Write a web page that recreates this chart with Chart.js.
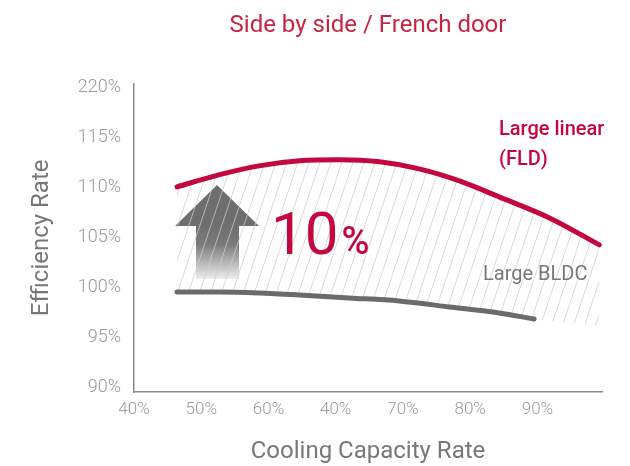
<!DOCTYPE html>
<html>
<head>
<meta charset="utf-8">
<script src="https://cdn.jsdelivr.net/npm/chart.js@4/dist/chart.umd.min.js"></script>
<style>
  html, body { margin: 0; padding: 0; background: #fff; }
  #wrap { width: 630px; height: 466px; }
</style>
</head>
<body>
<div id="wrap"><canvas id="myChart" width="630" height="466"></canvas></div>
<script>
// x positions are tick slots (0 = first "40%" label), y in percent
var xTickLabels = ['40%', '50%', '60%', '40%', '70%', '80%', '90%'];
var yTickValues = [90, 95, 100, 105, 110, 115, 120];
var yTickLabels = ['90%', '95%', '100%', '105%', '110%', '115%', '220%'];

var linearX = [0.64, 1.26, 1.86, 2.46, 3.05, 3.65, 4.24, 4.84, 5.43, 6.18, 6.92];
var linearY = [110.1, 111.3, 112.2, 112.7, 112.8, 112.6, 111.9, 110.7, 109.1, 107.0, 104.3];

var bldcX = [0.64, 1.26, 1.86, 2.46, 3.2, 3.94, 4.69, 5.43, 5.95];
var bldcY = [99.6, 99.6, 99.5, 99.3, 99.0, 98.7, 98.1, 97.5, 96.9];

// lower edge of the hatched band (follows BLDC, then runs on to the right)
var bandX = [0.64, 1.26, 1.86, 2.46, 3.2, 3.94, 4.69, 5.43, 5.95, 6.92];
var bandY = [99.6, 99.6, 99.5, 99.3, 99.0, 98.7, 98.1, 97.5, 96.9, 96.2];

var RED = '#c5073f';
var GRAY = '#6b6b6b';
var FONT = 'Roboto, "Open Sans", sans-serif';

function pts(xs, ys) {
    return xs.map(function (x, i) { return { x: x, y: ys[i] }; });
}

// diagonal hatch pattern
var tile = document.createElement('canvas');
tile.width = 11;
tile.height = 33;
var tc = tile.getContext('2d');
tc.strokeStyle = 'rgba(205, 205, 205, 0.75)';
tc.lineWidth = 1;
[-11, 0, 11].forEach(function (o) {
    tc.beginPath();
    tc.moveTo(11 + o, 0);
    tc.lineTo(0 + o, 33);
    tc.stroke();
});
var hatch = tc.createPattern(tile, 'repeat');

// arrow + labels drawn on top of the chart area
var notes = {
    id: 'notes',
    beforeDatasetsDraw: function (chart) {
        var c = chart.ctx;
        c.save();
        var g = c.createLinearGradient(0, 225, 0, 280);
        g.addColorStop(0, '#6e6e6e');
        g.addColorStop(0.35, '#7a7a7a');
        g.addColorStop(1, '#f0f0f0');
        c.fillStyle = g;
        c.beginPath();
        c.moveTo(217, 185);
        c.lineTo(259, 226);
        c.lineTo(239, 226);
        c.lineTo(239, 279);
        c.lineTo(196, 279);
        c.lineTo(196, 226);
        c.lineTo(175, 226);
        c.closePath();
        c.fill();
        c.restore();
    },
    afterDatasetsDraw: function (chart) {
        var c = chart.ctx;
        c.save();
        c.fillStyle = RED;
        c.textBaseline = 'alphabetic';
        c.textAlign = 'left';
        c.font = '400 60px ' + FONT;
        c.fillText('10', 271, 254);
        var w = c.measureText('10').width;
        c.font = '500 38px ' + FONT;
        c.fillText('%', 271 + w + 3, 254);

        c.font = '500 20px ' + FONT;
        c.fillText('Large linear', 499, 135);
        c.fillText('(FLD)', 499, 165);

        c.fillStyle = '#777777';
        c.font = '400 20px ' + FONT;
        c.fillText('Large BLDC', 483, 280);
        c.restore();
    }
};

var ctx = document.getElementById('myChart').getContext('2d');
var myChart = new Chart(ctx, {
    type: 'line',
    data: {
        datasets: [{
            label: 'Large linear (FLD)',
            data: pts(linearX, linearY),
            borderColor: RED,
            borderWidth: 5,
            borderCapStyle: 'round',
            backgroundColor: hatch,
            fill: { target: 2 },
            cubicInterpolationMode: 'monotone',
            pointRadius: 0,
            order: 1
        }, {
            label: 'Large BLDC',
            data: pts(bldcX, bldcY),
            borderColor: GRAY,
            borderWidth: 5,
            borderCapStyle: 'round',
            fill: false,
            cubicInterpolationMode: 'monotone',
            pointRadius: 0,
            order: 0
        }, {
            label: 'band',
            data: pts(bandX, bandY),
            borderWidth: 0,
            borderColor: 'rgba(0,0,0,0)',
            fill: false,
            cubicInterpolationMode: 'monotone',
            pointRadius: 0,
            order: 2
        }]
    },
    options: {
        responsive: false,
        animation: false,
        layout: { padding: { left: 0, right: 28, top: 0, bottom: 0 } },
        plugins: {
            legend: { display: false },
            tooltip: { enabled: false },
            title: {
                display: true,
                fullSize: false,
                text: 'Side by side / French door',
                color: '#c8233f',
                font: { family: FONT, size: 24, weight: '400' },
                padding: { top: 12, bottom: 43 }
            }
        },
        scales: {
            x: {
                type: 'linear',
                min: 0,
                max: 6.96,
                afterBuildTicks: function (s) {
                    s.ticks = xTickLabels.map(function (l, i) { return { value: i }; });
                },
                ticks: {
                    autoSkip: false,
                    maxRotation: 0,
                    padding: 8,
                    color: '#9a9a9a',
                    font: { family: FONT, size: 17, weight: '300' },
                    callback: function (v) { return xTickLabels[v]; }
                },
                grid: { display: false, drawTicks: false },
                border: { display: true, color: '#8a8a8a', width: 1.5 },
                title: {
                    display: true,
                    text: 'Cooling Capacity Rate',
                    color: '#777777',
                    font: { family: FONT, size: 24, weight: '400' },
                    padding: { top: 6, bottom: 0 }
                },
                afterFit: function (s) { s.height = 74; }
            },
            y: {
                min: 89.6,
                max: 120.4,
                afterBuildTicks: function (s) {
                    s.ticks = yTickValues.map(function (v) { return { value: v }; });
                },
                ticks: {
                    padding: 13,
                    color: '#9a9a9a',
                    font: { family: FONT, size: 18, weight: '300' },
                    callback: function (v) {
                        var i = yTickValues.indexOf(v);
                        return i >= 0 ? yTickLabels[i] : '';
                    }
                },
                grid: { display: false, drawTicks: false },
                border: { display: true, color: '#8a8a8a', width: 1.5 },
                title: {
                    display: true,
                    text: 'Efficiency Rate',
                    color: '#777777',
                    font: { family: FONT, size: 24, weight: '400' },
                    padding: { top: 28, bottom: 0 }
                },
                afterFit: function (s) { s.width = 134; }
            }
        }
    },
    plugins: [notes]
});
</script>
</body>
</html>
